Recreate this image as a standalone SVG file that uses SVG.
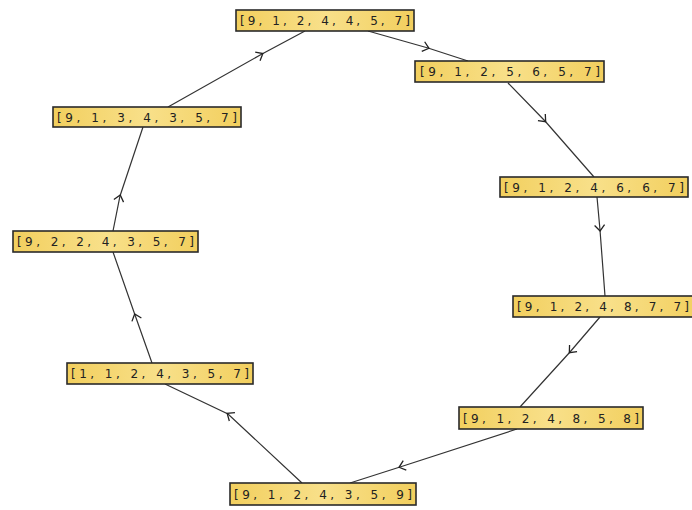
<svg xmlns="http://www.w3.org/2000/svg" width="692" height="510" viewBox="0 0 692 510">
<defs>
<linearGradient id="g" x1="0" y1="0" x2="1" y2="0">
<stop offset="0" stop-color="#f2cf5e"/>
<stop offset="0.5" stop-color="#f8e08a"/>
<stop offset="1" stop-color="#f2cf5e"/>
</linearGradient>
<marker id="arr" viewBox="0 0 12 12" refX="6" refY="6" markerWidth="12" markerHeight="12" markerUnits="userSpaceOnUse" orient="auto">
<path d="M1,1 L7,6 L1,11" fill="none" stroke="#222" stroke-width="1.3"/>
</marker>
<style>
.box{fill:url(#g);stroke:#2a2a2a;stroke-width:1.6}
.lbl{font-family:"DejaVu Sans","Liberation Sans",sans-serif;font-size:12px;fill:#222}
.e{fill:none;stroke:#333;stroke-width:1.2;marker-mid:url(#arr)}
</style>
</defs>
<rect width="692" height="510" fill="#fff"/>
<g id="edges">
<path class="e" d="M368,31 L428,48 L468,61"/>
<path class="e" d="M508,83 L545,121 L594,177"/>
<path class="e" d="M597,197 L600,230 L605,296"/>
<path class="e" d="M600,317 L570,352 L520,407"/>
<path class="e" d="M517,429 L400,467 L350,483"/>
<path class="e" d="M302,483 L228,414 L165,384"/>
<path class="e" d="M152,363 L135,315 L113,252"/>
<path class="e" d="M113,231 L120,196 L143,127"/>
<path class="e" d="M168,107 L262,54 L305,31"/>
</g>
<g id="n1"><rect class="box" x="236" y="10" width="178" height="21"/><text class="lbl" x="240" y="25" textLength="170" lengthAdjust="spacing">[9, 1, 2, 4, 4, 5, 7]</text></g>
<g id="n2"><rect class="box" x="415" y="61" width="189" height="21"/><text class="lbl" x="420" y="76" textLength="180" lengthAdjust="spacing">[9, 1, 2, 5, 6, 5, 7]</text></g>
<g id="n3"><rect class="box" x="53" y="107" width="188" height="20"/><text class="lbl" x="57" y="122" textLength="180" lengthAdjust="spacing">[9, 1, 3, 4, 3, 5, 7]</text></g>
<g id="n4"><rect class="box" x="500" y="177" width="188" height="20"/><text class="lbl" x="504" y="192" textLength="180" lengthAdjust="spacing">[9, 1, 2, 4, 6, 6, 7]</text></g>
<g id="n5"><rect class="box" x="13" y="231" width="185" height="21"/><text class="lbl" x="17" y="246" textLength="177" lengthAdjust="spacing">[9, 2, 2, 4, 3, 5, 7]</text></g>
<g id="n6"><rect class="box" x="513" y="296" width="188" height="21"/><text class="lbl" x="517" y="311" textLength="172" lengthAdjust="spacing">[9, 1, 2, 4, 8, 7, 7]</text></g>
<g id="n7"><rect class="box" x="67" y="363" width="186" height="21"/><text class="lbl" x="71" y="378" textLength="178" lengthAdjust="spacing">[1, 1, 2, 4, 3, 5, 7]</text></g>
<g id="n8"><rect class="box" x="459" y="407" width="184" height="22"/><text class="lbl" x="463" y="423" textLength="176" lengthAdjust="spacing">[9, 1, 2, 4, 8, 5, 8]</text></g>
<g id="n9"><rect class="box" x="230" y="483" width="186" height="22"/><text class="lbl" x="234" y="499" textLength="178" lengthAdjust="spacing">[9, 1, 2, 4, 3, 5, 9]</text></g>
</svg>
